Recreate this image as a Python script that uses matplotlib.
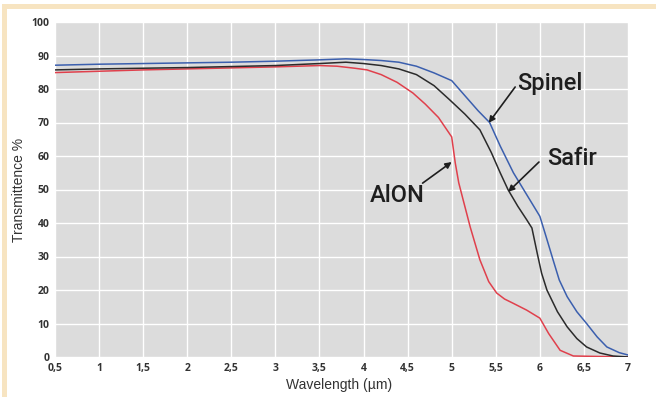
import matplotlib.pyplot as plt
from matplotlib.patches import Rectangle

# transmittance curves (wavelength in um, %)
spinel_x = [0.5, 1.0, 1.5, 2.0, 2.5, 3.0, 3.5, 3.8, 4.0, 4.2, 4.4, 4.6, 4.8, 5.0,
            5.1, 5.2, 5.3, 5.43, 5.55, 5.7, 5.85, 6.0, 6.07, 6.15, 6.22, 6.31, 6.42,
            6.53, 6.65, 6.76, 6.9, 7.0]
spinel_y = [87.1, 87.4, 87.6, 87.8, 88.0, 88.3, 88.7, 89.0, 88.8, 88.5, 88.0, 86.8,
            84.8, 82.5, 79.5, 76.5, 73.5, 70.0, 63.0, 55.0, 48.5, 42.0, 36.0, 29.0,
            23.0, 18.0, 13.5, 10.0, 6.0, 3.0, 1.3, 0.6]

safir_x = [0.5, 1.0, 1.5, 2.0, 2.5, 3.0, 3.5, 3.8, 4.0, 4.2, 4.4, 4.6, 4.8, 4.98,
           5.15, 5.32, 5.45, 5.55, 5.64, 5.75, 5.85, 5.91, 5.97, 6.02, 6.08, 6.2,
           6.31, 6.42, 6.53, 6.68, 6.83, 7.0]
safir_y = [85.7, 86.0, 86.2, 86.4, 86.7, 87.0, 87.6, 88.0, 87.6, 87.0, 86.0, 84.3,
           81.0, 76.7, 72.5, 67.8, 61.0, 55.0, 49.9, 45.0, 41.0, 38.5, 31.0, 25.0,
           20.0, 13.5, 9.0, 5.5, 3.0, 1.2, 0.3, 0.0]

alon_x = [0.5, 1.0, 1.5, 2.0, 2.5, 3.0, 3.5, 3.7, 3.9, 4.04, 4.2, 4.38, 4.56, 4.7,
          4.85, 5.0, 5.04, 5.08, 5.13, 5.21, 5.32, 5.42, 5.51, 5.6, 5.7, 5.85, 6.0,
          6.1, 6.23, 6.38, 7.0]
alon_y = [84.9, 85.3, 85.7, 86.0, 86.3, 86.6, 87.0, 86.8, 86.2, 85.7, 84.3, 82.0,
          78.8, 75.5, 71.5, 65.7, 58.0, 52.0, 46.9, 38.8, 29.0, 22.5, 19.1, 17.3,
          16.0, 14.0, 11.6, 7.0, 2.0, 0.3, 0.0]

x_ticks = [0.5, 1, 1.5, 2, 2.5, 3, 3.5, 4, 4.5, 5, 5.5, 6, 6.5, 7]
x_labels = ["0,5", "1", "1,5", "2", "2,5", "3", "3,5", "4", "4,5", "5", "5,5",
            "6", "6,5", "7"]
y_ticks = [0, 10, 20, 30, 40, 50, 60, 70, 80, 90, 100]

BEIGE = "#f7e4c1"

fig = plt.figure(figsize=(6.56, 3.97), dpi=100)
fig.patch.set_facecolor("white")
fig.patches.append(Rectangle((2 / 656, 1 - 9 / 397), 1, 5 / 397, transform=fig.transFigure,
                             facecolor=BEIGE, edgecolor="none", zorder=0))
fig.patches.append(Rectangle((2 / 656, 0), 5 / 656, 1 - 4 / 397, transform=fig.transFigure,
                             facecolor=BEIGE, edgecolor="none", zorder=0))

ax = fig.add_axes([55 / 656, 1 - 357 / 397, 573 / 656, 335 / 397])
ax.set_facecolor("#dcdcdc")
for s in ax.spines.values():
    s.set_visible(False)
ax.set_xlim(0.5, 7)
ax.set_ylim(0, 100)
ax.set_xticks(x_ticks)
ax.set_xticklabels(x_labels)
ax.set_yticks(y_ticks)
ax.grid(color="white", lw=1.0)
ax.set_axisbelow(True)
ax.tick_params(length=0, labelsize=7.5, colors="#333333", pad=4)
for lab in ax.get_xticklabels() + ax.get_yticklabels():
    lab.set_fontfamily("Open Sans")
    lab.set_fontweight("bold")

ax.plot(alon_x, alon_y, color="#e0404c", lw=1.1)
ax.plot(safir_x, safir_y, color="#2b2b2b", lw=1.1)
ax.plot(spinel_x, spinel_y, color="#3b5fae", lw=1.1)

ax.set_xlabel("Wavelength (µm)", fontsize=10, family="Liberation Sans", color="#333333")
ax.set_ylabel("Transmittence %", fontsize=10, family="Liberation Sans", color="#333333")
ax.xaxis.set_label_coords(0.495, -0.063)
ax.yaxis.set_label_coords(-0.05, 0.5)

arrow = dict(arrowstyle="-|>", color="#1e1e1e", lw=1.2, mutation_scale=9,
             shrinkA=0, shrinkB=0)
txt = dict(fontsize=17, family="Roboto", fontweight="medium", color="#1e1e1e",
           ha="left", va="baseline")
ax.annotate("", xy=(5.42, 69.9), xytext=(5.72, 80.6), arrowprops=arrow)
ax.annotate("", xy=(5.64, 49.3), xytext=(5.99, 58.2), arrowprops=arrow)
ax.annotate("", xy=(5.0, 58.2), xytext=(4.67, 51.9), arrowprops=arrow)
ax.text(5.74, 79.7, "Spinel", **txt)
ax.text(6.08, 57.3, "Safir", **txt)
ax.text(4.07, 46.3, "AlON", **txt)

fig.savefig("out.png", dpi=100)
